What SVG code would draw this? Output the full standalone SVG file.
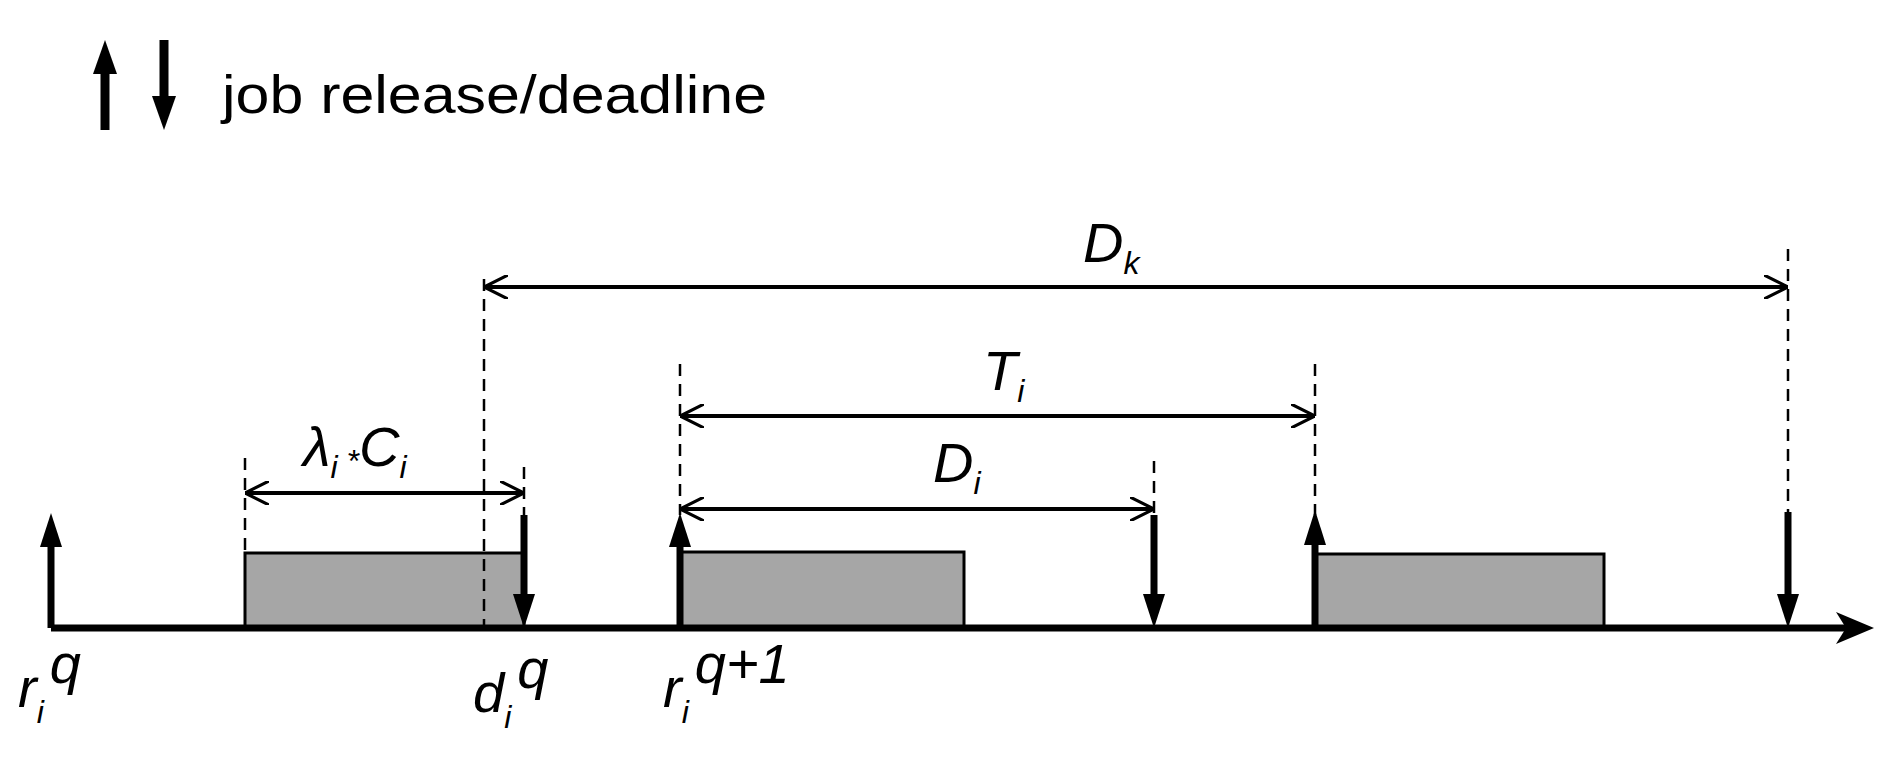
<svg xmlns="http://www.w3.org/2000/svg" width="1901" height="760" viewBox="0 0 1901 760">
<defs>
<marker id="open" viewBox="0 0 10 10" refX="10" refY="5" markerWidth="24" markerHeight="24" markerUnits="userSpaceOnUse" orient="auto-start-reverse">
<path d="M0,0 L10,5 L0,10" fill="none" stroke="#000" stroke-width="1.3"/>
</marker>
</defs>
<style>
.bold{stroke:#000;stroke-width:7;fill:none}
.leg{stroke:#000;stroke-width:9;fill:none}
.dash{stroke:#000;stroke-width:2.5;stroke-dasharray:12,8;fill:none}
.dim{stroke:#000;stroke-width:4;fill:none;marker-start:url(#open);marker-end:url(#open)}
.box{fill:#a6a6a6;stroke:#000;stroke-width:3}
text{font-family:"Liberation Sans",Arial,sans-serif;fill:#000}
.lab{font-style:italic;font-size:56px}
.sub{font-style:italic;font-size:32px}
</style>
<g id="legend">
<path class="leg" d="M105,130 V70"/><path d="M93,74 L105,40 L117,74 Z"/>
<path class="leg" d="M164,40 V98"/><path d="M152,96 L164,130 L176,96 Z"/>
<text x="222" y="113" font-size="54" textLength="545" lengthAdjust="spacingAndGlyphs">job release/deadline</text>
</g>
<g id="boxes">
<rect id="job1" class="box" x="245" y="553" width="279" height="75"/>
<rect id="job2" class="box" x="680" y="552" width="284" height="76"/>
<rect id="job3" class="box" x="1315" y="554" width="289" height="74"/>
</g>
<g id="connectors">
<path class="dash" d="M245,458 V553"/>
<path class="dash" d="M524,467 V515"/>
<path class="dash" d="M484,279 V628"/>
<path class="dash" d="M680,364 V515"/>
<path class="dash" d="M1154,461 V515"/>
<path class="dash" d="M1315,364 V515"/>
<path class="dash" d="M1788,249 V512"/>
<path class="dim" d="M245,493 H524"/>
<path class="dim" d="M484,287 H1788"/>
<path class="dim" d="M680,416 H1315"/>
<path class="dim" d="M680,509 H1154"/>
</g>
<g id="axis">
<path class="bold" d="M51,628 H1850"/><path d="M1836,612 L1874,628 L1836,644 L1846,628 Z"/>
</g>
<g id="events">
<path class="bold" d="M51,628 V540"/><path d="M40,547 L51,513 L62,547 Z"/>
<path class="bold" d="M524,515 V600"/><path d="M513,594 L524,628 L535,594 Z"/>
<path class="bold" d="M680,628 V540"/><path d="M669,547 L680,513 L691,547 Z"/>
<path class="bold" d="M1154,515 V600"/><path d="M1143,594 L1154,628 L1165,594 Z"/>
<path class="bold" d="M1315,628 V540"/><path d="M1304,545 L1315,510 L1326,545 Z"/>
<path class="bold" d="M1788,512 V600"/><path d="M1777,594 L1788,628 L1799,594 Z"/>
</g>
<g id="labels">
<text class="lab" x="303" y="466">λ<tspan class="sub" dy="12">i</tspan><tspan class="sub" dy="-6"> *</tspan><tspan dy="-6">C</tspan><tspan class="sub" dy="12">i</tspan></text>
<text class="lab" x="1083" y="262">D<tspan class="sub" dy="12">k</tspan></text>
<text class="lab" x="983" y="390">T<tspan class="sub" dy="12">i</tspan></text>
<text class="lab" x="933" y="482">D<tspan class="sub" dy="12">i</tspan></text>
<text class="lab" x="18" y="707">r<tspan class="sub" dy="16">i</tspan><tspan dx="6" dy="-40">q</tspan></text>
<text class="lab" x="473" y="712">d<tspan class="sub" dy="16">i</tspan><tspan dx="6" dy="-40">q</tspan></text>
<text class="lab" x="663" y="707">r<tspan class="sub" dy="16">i</tspan><tspan dx="6" dy="-40">q+1</tspan></text>
</g>
</svg>
